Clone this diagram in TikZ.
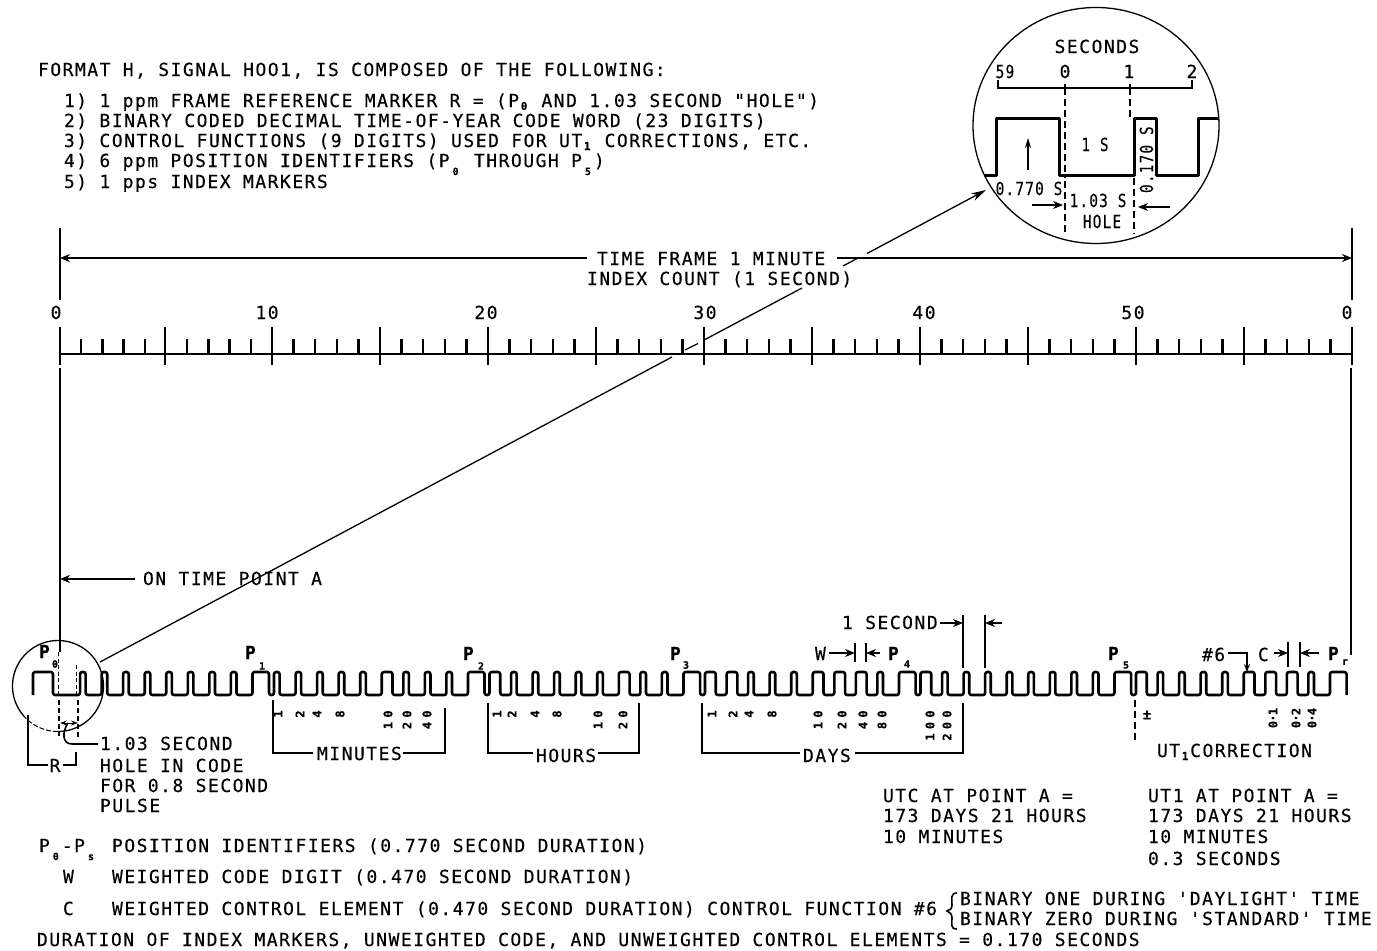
\documentclass[tikz,border=0pt]{standalone}
\usepackage{graphicx}
\usepackage{fontspec}
\setmonofont[LetterSpace=8.3,FakeBold=0.25]{DejaVu Sans Mono}
\renewcommand{\familydefault}{\ttdefault}
\usetikzlibrary{arrows.meta}
\newcommand{\subsc}[1]{\makebox[12pt]{\raisebox{-8pt}{\fontsize{10}{10}\selectfont\bfseries #1}}}
\newcommand{\subtight}[1]{\makebox[10pt]{\raisebox{-3pt}{\fontsize{11}{11}\selectfont\bfseries #1}}}
\newcommand{\nar}[1]{\scalebox{.8}[1]{#1}}
\tikzset{
  txt/.style={anchor=base west,inner sep=0pt,outer sep=0pt,font=\fontsize{18}{20}\selectfont},
  ctxt/.style={anchor=base,inner sep=0pt,outer sep=0pt,font=\fontsize{18}{20}\selectfont},
  ptxt/.style={anchor=base west,inner sep=0pt,outer sep=0pt,font=\fontsize{18}{20}\selectfont\bfseries},
  psub/.style={inner sep=0pt,outer sep=0pt,font=\fontsize{10}{10}\selectfont\bfseries},
  dig/.style={inner sep=0pt,outer sep=0pt,rotate=90,font=\fontsize{12}{12}\selectfont\bfseries},
  thin line/.style={line width=1.3pt,black},
  med line/.style={line width=1.6pt,black},
  wave/.style={line width=2.6pt,black,rounded corners=2.2pt,line join=round},
  dimarrow/.style={line width=1.4pt,black,-{Stealth[length=10pt,width=8pt]}},
  dashline/.style={line width=1.7pt,black,dash pattern=on 7pt off 4pt},
}
\begin{document}
\begin{tikzpicture}[x=1pt,y=-1pt]
\useasboundingbox[fill=white] (0,0) rectangle (1377,951);

% --- header text
\node[txt] (h0) at (38,76) {FORMAT H, SIGNAL HOO1, IS COMPOSED OF THE FOLLOWING:};
\node[txt] (h1) at (64,107) {1) 1 ppm FRAME REFERENCE MARKER R = (P\subtight{0} AND 1.03 SECOND "HOLE")};
\node[txt] (h2) at (64,127) {2) BINARY CODED DECIMAL TIME-OF-YEAR CODE WORD (23 DIGITS)};
\node[txt] (h3) at (64,147) {3) CONTROL FUNCTIONS (9 DIGITS) USED FOR UT\subtight{1} CORRECTIONS, ETC.};
\node[txt] (h4) at (64,167) {4) 6 ppm POSITION IDENTIFIERS (P\subsc{0} THROUGH P\subsc{5})};
\node[txt] (h5) at (64,188) {5) 1 pps INDEX MARKERS};

% --- inset
\draw[thin line] (1096,125.5) ellipse [x radius=123pt,y radius=118pt];
\node[ctxt] (secs) at (1097,53) {SECONDS};
\node[ctxt] (s59) at (1005,78) {\nar{59}};
\node[ctxt] (s0) at (1065,78) {0};
\node[ctxt] (s1) at (1129,78) {1};
\node[ctxt] (s2) at (1192,78) {2};
\draw[med line] (998,80) -- (998,88) -- (1192,88) -- (1192,80);
\draw[med line] (1065,84) -- (1065,88) (1130,84) -- (1130,88);
\draw[line width=3pt,black,line join=round] (985,175) -- (996,175) -- (996,118) -- (1059,118) -- (1059,175) -- (1134,175) -- (1134,118) -- (1156,118) -- (1156,175) -- (1198,175) -- (1198,118) -- (1218,118);
\draw[dashline] (1065,88) -- (1065,178);
\draw[dashline] (1130,88) -- (1130,118);
\draw[dashline] (1065,181) -- (1065,234);
\draw[dashline] (1134,178) -- (1134,234);
\draw[line width=1.8pt,black,-{Stealth[length=10pt,width=6pt]}] (1028,170) -- (1028,138);
\node[ctxt] (ones) at (1095,151) {\nar{1 S}};
\node[txt,rotate=90] (p17) at (1153,193) {\nar{0.170 S}};
\node[ctxt] (p77) at (1029,195) {\nar{0.770 S}};
\node[ctxt] (h103) at (1098,207) {\nar{1.03 S}};
\node[ctxt] (hole) at (1102,228) {\nar{HOLE}};
\coordinate (hl0) at (1032,205);
\coordinate (hl1) at (1063,205);
\coordinate (hr0) at (1170,207);
\coordinate (hr1) at (1138,207);
\draw[dimarrow] (hl0) -- (hl1);
\draw[dimarrow] (hr0) -- (hr1);

% --- zoom leader
\coordinate (lens0) at (100,662);
\coordinate (lens1) at (986,190);
\draw[thin line] (lens0) -- (672,357) (685,350) -- (698,343.5) (705,339.5) -- (802,288) (843,266) -- (857,258.5);
\draw[line width=1.3pt,black,-{Stealth[length=15pt,width=8pt]}] (867,253.5) -- (lens1);

% --- frame
\draw[med line] (60,228) -- (60,300);
\draw[med line] (1352,228) -- (1352,300);
\coordinate (f0) at (60,258);
\coordinate (f1) at (1352,258);
\draw[dimarrow] (587,258) -- (f0);
\draw[dimarrow] (837,258) -- (f1);
\node[txt] (tf) at (597,265) {TIME FRAME 1 MINUTE};
\node[txt] (ic) at (587,285) {INDEX COUNT (1 SECOND)};

% --- ruler
\node[ctxt] (r0) at (56,319) {0};
\node[ctxt] (r10) at (267,319) {10};
\node[ctxt] (r20) at (486,319) {20};
\node[ctxt] (r30) at (705,319) {30};
\node[ctxt] (r40) at (924,319) {40};
\node[ctxt] (r50) at (1133,319) {50};
\node[ctxt] (r60) at (1347,319) {0};
\draw[line width=2pt,black] (60,354) -- (1352,354);
\foreach \k in {1,2,3,4,6,7,8,9}
  \draw[line width=2.4pt,black] ({60+21.2*\k},339) -- ({60+21.2*\k},354);
\foreach \k in {11,...,59} {
  \pgfmathtruncatemacro{\m}{mod(\k,5)}
  \ifnum\m=0\else\draw[line width=2.4pt,black] ({272+21.6*(\k-10)},339) -- ({272+21.6*(\k-10)},354);\fi
}
\foreach \k in {10,15,...,60}
  \draw[line width=2.4pt,black] ({272+21.6*(\k-10)},327) -- ({272+21.6*(\k-10)},365);
\draw[line width=2.4pt,black] (60,327) -- (60,365);
\draw[line width=2.4pt,black] (165,327) -- (165,365);

% --- on-time
\draw[med line] (60,368) -- (60,652);
\draw[med line] (1351,368) -- (1351,655);
\coordinate (ot) at (60,579);
\draw[dimarrow] (135,579) -- (ot);
\node[txt] (otp) at (143,585) {ON TIME POINT A};

% --- waveform
\draw[wave] (33,695) -- (33,672) -- (53,672) -- (53,695)
 \foreach \k/\w in {1/.26,2/.26,3/.26,4/.26,5/.26,6/.26,7/.26,8/.26,9/.77,
  10/.26,11/.26,12/.26,13/.26,14/.26,15/.5,16/.26,17/.26,18/.26,19/.77,
  20/.5,21/.26,22/.26,23/.26,24/.26,25/.26,26/.5,27/.26,28/.26,29/.77,
  30/.5,31/.5,32/.26,33/.26,34/.26,35/.5,36/.5,37/.5,38/.26,39/.77,
  40/.5,41/.26,42/.26,43/.26,44/.26,45/.26,46/.26,47/.26,48/.26,49/.77,
  50/.5,51/.26,52/.26,53/.26,54/.26,55/.5,56/.5,57/.5,58/.26,59/.77}
 { -- ({58.5+21.55*\k},695) -- ({58.5+21.55*\k},672) -- ({58.5+21.55*(\k+\w)},672) -- ({58.5+21.55*(\k+\w)},695) };

% --- P labels
\node[ptxt] (P0) at (39,658) {P}; \node[psub] (P0s) at (55,664) {0};
\node[ptxt] (P1) at (245,659) {P}; \node[psub] (P1s) at (262,666) {1};
\node[ptxt] (P2) at (463,660) {P}; \node[psub] (P2s) at (481,666) {2};
\node[ptxt] (P3) at (670,660) {P}; \node[psub] (P3s) at (686,665) {3};
\node[ptxt] (P4) at (888,660) {P}; \node[psub] (P4s) at (907,664) {4};
\node[ptxt] (P5) at (1108,660) {P}; \node[psub] (P5s) at (1126,665) {5};
\node[ptxt] (Pr) at (1328,660) {P}; \node[psub] (Prs) at (1345,662) {r};

% --- lens at origin
\draw[thin line] plot[domain=138:450,samples=70] ({58+45.5*cos(\x)},{686+45.5*sin(\x)});
\draw[line width=1pt,black,dash pattern=on 5pt off 2pt] plot[domain=90:138,samples=14] ({58+45.5*cos(\x)},{686+45.5*sin(\x)});
\draw[line width=1pt,black,dash pattern=on 4pt off 2.5pt] (58,652) -- (58,695) (76,665) -- (76,695);
\draw[dashline,dash pattern=on 5pt off 3pt] (59,700) -- (59,736) (78,700) -- (78,738);
\draw[line width=1pt,black,{Stealth[length=7pt,width=5pt]}-{Stealth[length=7pt,width=5pt]}] (60,723) -- (78,723);
\coordinate (cv) at (68,723);
\coordinate (cvend) at (98,744);
\draw[med line] (cv) .. controls (62,732) and (62,744) .. (72,744) -- (cvend);
\node[txt] (n1) at (100,750) {1.03 SECOND};
\node[txt] (n2) at (100,772) {HOLE IN CODE};
\node[txt] (n3) at (100,792) {FOR 0.8 SECOND};
\node[txt] (n4) at (100,812) {PULSE};
\node[ctxt] (R) at (55,772) {R};
\draw[med line] (28,715) -- (28,765) -- (48,765);
\draw[med line] (63,765) -- (76,765) -- (76,752);

% --- brackets
\draw[med line] (273,700) -- (273,753) -- (313,753);
\draw[med line] (403,753) -- (445,753) -- (445,708);
\node[txt] (min) at (317,760) {MINUTES};
\draw[med line] (488,703) -- (488,753) -- (533,753);
\draw[med line] (598,753) -- (639,753) -- (639,703);
\node[txt] (hrs) at (536,762) {HOURS};
\draw[med line] (702,703) -- (702,753) -- (800,753);
\draw[med line] (855,753) -- (963,753) -- (963,703);
\node[txt] (dys) at (803,762) {DAYS};

% --- weights
\foreach \x/\d in {278/1,300/2,317/4,340/8,388/0,407/0,427/0,
  497/1,512/2,535/4,557/8,598/0,623/0,
  712/1,733/2,749/4,772/8,818/0,842/0,863/0,882/0,930/0,947/0}
  \node[dig] at (\x,714) {\d};
\foreach \x/\d in {388/1,407/2,427/4,598/1,623/2,818/1,842/2,863/4,882/8,930/0,947/0}
  \node[dig] at (\x,725.5) {\d};
\foreach \x/\d in {930/1,947/2}
  \node[dig] at (\x,737) {\d};
\foreach \x/\d in {1273/1,1296/2,1312/4} {
  \node[dig] at (\x,711.5) {\d};
  \node[dig] at (\x,718) {.};
  \node[dig] at (\x,724.5) {0};
}
\node[inner sep=0pt,font=\fontsize{14}{14}\selectfont\bfseries] (pm) at (1147,715) {±};
\draw[dashline] (1135,700) -- (1135,743);
\node[txt] (ut) at (1157,757) {UT\subtight{1}CORRECTION};

% --- upper dimension marks
\node[txt] (sec1) at (842,629) {1 SECOND};
\draw[med line] (963,615) -- (963,668) (985,615) -- (985,668);
\coordinate (a1) at (963,623); \coordinate (a2) at (985,623);
\draw[dimarrow] (940,623) -- (a1);
\draw[dimarrow] (1002,623) -- (a2);
\node[txt] (W) at (815,660) {W};
\draw[med line] (855,643) -- (855,662) (866,643) -- (866,662);
\coordinate (a3) at (855,653); \coordinate (a4) at (866,653);
\draw[dimarrow] (829,653) -- (a3);
\draw[dimarrow] (880,653) -- (a4);
\node[txt] (n6) at (1202,661) {\#6};
\coordinate (a5) at (1247,672);
\draw[thin line,-{Stealth[length=8pt,width=6pt]}] (1228,653) -- (1247,653) -- (a5);
\node[txt] (C) at (1258,661) {C};
\draw[med line] (1288,642) -- (1288,667) (1300,642) -- (1300,667);
\coordinate (a6) at (1288,653); \coordinate (a7) at (1300,653);
\draw[dimarrow] (1274,653) -- (a6);
\draw[dimarrow] (1319,653) -- (a7);

% --- right notes
\node[txt] (u1) at (883,802) {UTC AT POINT A =};
\node[txt] (u2) at (883,822) {173 DAYS 21 HOURS};
\node[txt] (u3) at (883,843) {10 MINUTES};
\node[txt] (v1) at (1148,802) {UT1 AT POINT A =};
\node[txt] (v2) at (1148,822) {173 DAYS 21 HOURS};
\node[txt] (v3) at (1148,843) {10 MINUTES};
\node[txt] (v4) at (1148,865) {0.3 SECONDS};

% --- legend
\node[txt] (l1a) at (39,852) {P\subsc{0}-P\subsc{s}};
\node[txt] (l1) at (112,852) {POSITION IDENTIFIERS (0.770 SECOND DURATION)};
\node[txt] (l2a) at (63,883) {W};
\node[txt] (l2) at (112,883) {WEIGHTED CODE DIGIT (0.470 SECOND DURATION)};
\node[txt] (l3a) at (63,915) {C};
\node[txt] (l3) at (112,915) {WEIGHTED CONTROL ELEMENT (0.470 SECOND DURATION) CONTROL FUNCTION \#6};
\node[txt] (l4) at (37,946) {DURATION OF INDEX MARKERS, UNWEIGHTED CODE, AND UNWEIGHTED CONTROL ELEMENTS = 0.170 SECONDS};
\node[txt] (b1) at (960,905) {BINARY ONE DURING 'DAYLIGHT' TIME};
\node[txt] (b2) at (960,925) {BINARY ZERO DURING 'STANDARD' TIME};
\draw[med line] (957,893) .. controls (950,893) and (952,899) .. (952,905) .. controls (952,909) and (950,910) .. (947,911) .. controls (950,912) and (952,914) .. (952,918) .. controls (952,924) and (950,929) .. (957,929);
\end{tikzpicture}
\end{document}
